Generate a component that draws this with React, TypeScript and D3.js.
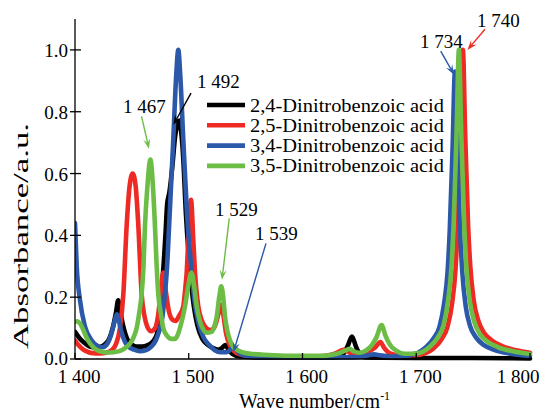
import React from "react";
import * as d3 from "d3";

type Pt = [number, number];

const seriesNames = [
  "2,4-Dinitrobenzoic acid",
  "2,5-Dinitrobenzoic acid",
  "3,4-Dinitrobenzoic acid",
  "3,5-Dinitrobenzoic acid",
];
const seriesColors = ["#000000", "#ee2a24", "#2b58a8", "#6cbd45"];

const xTicks = [1400, 1500, 1600, 1700, 1800];
const xTickLabels = ["1 400", "1 500", "1 600", "1 700", "1 800"];
const yTicks = [0, 0.2, 0.4, 0.6, 0.8, 1.0];
const yTickLabels = ["0.0", "0.2", "0.4", "0.6", "0.8", "1.0"];

const black24: Pt[] = [
  [1400, 0.088], [1404, 0.067], [1409, 0.05], [1413, 0.04], [1418, 0.037], [1423, 0.04],
  [1427, 0.05], [1430, 0.065], [1433.5, 0.105], [1436, 0.15], [1438, 0.19], [1440, 0.15],
  [1442.5, 0.105], [1446.5, 0.06], [1450, 0.047], [1454, 0.04], [1459, 0.04], [1464, 0.045],
  [1468, 0.055], [1471.5, 0.075], [1474, 0.12], [1476, 0.21], [1478, 0.31], [1479.5, 0.4],
  [1481, 0.5], [1483, 0.54], [1485.5, 0.62], [1488, 0.72], [1490, 0.76], [1491.5, 0.77],
  [1493.2, 0.74], [1495, 0.66], [1497.5, 0.47], [1501.5, 0.27], [1504.5, 0.17], [1507.5, 0.11],
  [1512, 0.065], [1517, 0.045], [1522, 0.034], [1526, 0.03], [1529, 0.035], [1532, 0.045],
  [1535, 0.03], [1539, 0.015], [1545, 0.008], [1560, 0.005], [1600, 0.004], [1625, 0.004],
  [1632, 0.008], [1636, 0.018], [1639.5, 0.04], [1643.5, 0.073], [1647, 0.04], [1650.5, 0.015],
  [1655, 0.006], [1670, 0.004], [1700, 0.003], [1750, 0.003], [1800, 0.002],
];

const red25: Pt[] = [
  [1400, 0.06], [1403, 0.045], [1407.3, 0.03], [1412, 0.022], [1416, 0.019], [1422, 0.018],
  [1428, 0.021], [1432, 0.028], [1436, 0.048], [1439.5, 0.1], [1442.5, 0.21], [1445.4, 0.43],
  [1448, 0.56], [1450.7, 0.6], [1453.3, 0.56], [1455.7, 0.43], [1458.6, 0.21], [1461, 0.14],
  [1463.5, 0.105], [1467, 0.09], [1470.5, 0.1], [1473, 0.14], [1475.5, 0.22], [1477.6, 0.28],
  [1479.8, 0.22], [1482.5, 0.155], [1485.5, 0.128], [1488.5, 0.123], [1491.5, 0.14],
  [1495.2, 0.17], [1497, 0.23], [1498.2, 0.28], [1499.6, 0.385], [1502, 0.515], [1504, 0.385],
  [1505.5, 0.28], [1508.4, 0.17], [1511, 0.13], [1514.3, 0.105], [1518.7, 0.094], [1522, 0.1],
  [1525, 0.13], [1527, 0.16], [1528.7, 0.175], [1530.5, 0.14], [1533, 0.08], [1536, 0.045],
  [1540, 0.025], [1546, 0.014], [1560, 0.008], [1590, 0.006], [1615, 0.009], [1624, 0.013],
  [1630, 0.02], [1636, 0.03], [1640, 0.024], [1644.7, 0.015], [1652, 0.017], [1659, 0.026],
  [1664, 0.038], [1668.5, 0.055], [1672, 0.035], [1677, 0.018], [1685, 0.012], [1695, 0.012],
  [1703.5, 0.014], [1708.5, 0.02], [1715.5, 0.035], [1722.5, 0.065], [1727.5, 0.105],
  [1731.5, 0.18], [1734.5, 0.29], [1736.5, 0.44], [1739, 0.73], [1741, 1.0], [1743, 0.73],
  [1745.5, 0.44], [1747.5, 0.3], [1750.5, 0.19], [1754.5, 0.125], [1759.5, 0.085],
  [1766.5, 0.06], [1775.5, 0.042], [1788, 0.028], [1800, 0.02],
];

const blue34: Pt[] = [
  [1400, 0.44], [1401.5, 0.3], [1404.4, 0.19], [1408.8, 0.105], [1414.7, 0.06], [1420, 0.042],
  [1424, 0.038], [1427.5, 0.045], [1430.5, 0.065], [1433, 0.095], [1435, 0.125], [1436.8, 0.145],
  [1438.5, 0.125], [1441, 0.085], [1444, 0.055], [1447, 0.04], [1452, 0.03], [1457, 0.025],
  [1462, 0.028], [1467, 0.04], [1471, 0.06], [1474, 0.09], [1476.2, 0.12], [1478.5, 0.19],
  [1480.6, 0.28], [1483.5, 0.49], [1486.4, 0.71], [1489, 0.92], [1490.8, 1.0], [1492.5, 0.92],
  [1495.2, 0.71], [1498.2, 0.49], [1502.6, 0.28], [1505, 0.19], [1508.4, 0.12], [1513, 0.07],
  [1518, 0.045], [1523, 0.028], [1528, 0.022], [1533, 0.022], [1536.5, 0.03], [1539.5, 0.04],
  [1542, 0.03], [1545, 0.018], [1550, 0.01], [1570, 0.006], [1620, 0.005], [1645, 0.006],
  [1655, 0.01], [1663, 0.015], [1668, 0.012], [1680, 0.008], [1690, 0.01], [1696.5, 0.014],
  [1701.5, 0.02], [1708.5, 0.038], [1715.5, 0.068], [1720.5, 0.105], [1724.5, 0.18],
  [1727.5, 0.28], [1729.5, 0.42], [1732, 0.69], [1734, 0.93], [1736, 0.69], [1738.5, 0.42],
  [1740.5, 0.28], [1743.5, 0.17], [1747.5, 0.105], [1752.5, 0.07], [1759.5, 0.045],
  [1768.5, 0.03], [1781.5, 0.018], [1800, 0.01],
];

const green35: Pt[] = [
  [1400, 0.12], [1402, 0.122], [1404.4, 0.115], [1407.3, 0.094], [1410, 0.07], [1413.2, 0.05],
  [1417, 0.035], [1422, 0.025], [1428, 0.021], [1434, 0.022], [1439.6, 0.026], [1444, 0.035],
  [1448.4, 0.05], [1451.5, 0.07], [1454.2, 0.1], [1456.5, 0.15], [1458.6, 0.21], [1460.2, 0.3],
  [1461.5, 0.43], [1463.5, 0.55], [1466.3, 0.645], [1468.5, 0.56], [1470.3, 0.43], [1471.8, 0.3],
  [1473.2, 0.21], [1475.3, 0.15], [1477.6, 0.1], [1481, 0.075], [1485, 0.065], [1488, 0.065],
  [1490.5, 0.08], [1493, 0.11], [1496.7, 0.17], [1499.5, 0.235], [1502.3, 0.28], [1504.8, 0.235],
  [1507, 0.17], [1510, 0.12], [1512.8, 0.095], [1516, 0.085], [1519.5, 0.087], [1522, 0.1],
  [1524.6, 0.137], [1526.8, 0.2], [1528.6, 0.235], [1530.3, 0.2], [1531.9, 0.137], [1534, 0.09],
  [1536.3, 0.06], [1539, 0.04], [1542, 0.03], [1547, 0.022], [1554, 0.017], [1570, 0.013],
  [1600, 0.01], [1615, 0.01], [1625, 0.013], [1633, 0.02], [1638, 0.028], [1641.5, 0.033],
  [1645, 0.025], [1650.5, 0.02], [1656, 0.028], [1661, 0.045], [1665, 0.07], [1669.5, 0.11],
  [1673, 0.075], [1677, 0.045], [1682, 0.028], [1690, 0.017], [1700, 0.018], [1705, 0.022],
  [1712, 0.04], [1719, 0.07], [1724, 0.11], [1728, 0.19], [1731, 0.3], [1733, 0.45],
  [1735.5, 0.74], [1737.5, 1.0], [1739.5, 0.74], [1742, 0.45], [1744, 0.3], [1747, 0.19],
  [1751, 0.12], [1756, 0.08], [1763, 0.055], [1772, 0.038], [1785, 0.025], [1800, 0.016],
];

const seriesData = [black24, red25, blue34, green35];

// annotations: label, text anchor, arrow start and arrow tip (data units)
const annoLabels = ["1 492", "1 467", "1 529", "1 539", "1 734", "1 740"];
const annoColors = ["#000000", "#6cbd45", "#6cbd45", "#2b58a8", "#2b58a8", "#ee2a24"];
const annoText: Pt[] = [[1507.3, 0.877], [1442.2, 0.796], [1523, 0.463], [1558.2, 0.385], [1703.3, 1.006], [1753.4, 1.074]];
const annoFrom: Pt[] = [[1502, 0.86], [1458.5, 0.785], [1535.6, 0.455], [1567.9, 0.374], [1721.5, 0.996], [1760.4, 1.067]];
const annoTo: Pt[] = [[1486.5, 0.758], [1465, 0.68], [1529.2, 0.256], [1539.3, 0.022], [1733.2, 0.92], [1745, 1.0]];

const FONT = "'Liberation Serif', 'Times New Roman', serif";

export default function App() {
  const W = 554, H = 411;
  const x = d3.scaleLinear().domain([1400, 1800]).range([75, 530]);
  const y = d3.scaleLinear().domain([0, 1.1]).range([359, 19]);
  const line = d3.line<Pt>().x((d) => x(d[0])).y((d) => y(d[1])).curve(d3.curveMonotoneX);

  const arrow = (i: number) => {
    const [x1, y1] = [x(annoFrom[i][0]), y(annoFrom[i][1])];
    const [x2, y2] = [x(annoTo[i][0]), y(annoTo[i][1])];
    const ang = Math.atan2(y2 - y1, x2 - x1);
    const L = 10, Wd = 3.6, notch = 6;
    const bx = x2 - L * Math.cos(ang), by = y2 - L * Math.sin(ang);
    const nx = x2 - notch * Math.cos(ang), ny = y2 - notch * Math.sin(ang);
    const px = -Math.sin(ang), py = Math.cos(ang);
    const head = `M${x2},${y2}L${bx + px * Wd},${by + py * Wd}L${nx},${ny}L${bx - px * Wd},${by - py * Wd}Z`;
    return (
      <g key={"a" + i}>
        <line x1={x1} y1={y1} x2={nx} y2={ny} stroke={annoColors[i]} strokeWidth={1.4} />
        <path d={head} fill={annoColors[i]} />
      </g>
    );
  };

  return (
    <svg width={W} height={H} style={{ display: "block", position: "absolute", left: 0, top: 0 }} fontFamily={FONT}>
      <rect width={W} height={H} fill="#fff" />
      <defs>
        <clipPath id="plot">
          <rect x={75} y={10} width={460} height={352} />
        </clipPath>
      </defs>
      <g clipPath="url(#plot)">
        {seriesData.map((s, i) => (
          <path key={i} d={line(s) || ""} fill="none" stroke={seriesColors[i]} strokeWidth={4.6}
            strokeLinejoin="round" strokeLinecap="round" />
        ))}
      </g>
      {/* axes */}
      <line x1={75} y1={359} x2={530} y2={359} stroke="#000" strokeWidth={1.3} />
      <line x1={75} y1={19} x2={75} y2={359} stroke="#000" strokeWidth={1.3} />
      {xTicks.map((t, i) => (
        <g key={"xt" + i}>
          <line x1={x(t)} x2={x(t)} y1={359} y2={353} stroke="#000" strokeWidth={1.3} />
          <text x={i === xTicks.length - 1 ? x(t) - 12 : x(t) + 4} y={383} fontSize={19} textAnchor="middle">
            {xTickLabels[i]}
          </text>
        </g>
      ))}
      {yTicks.map((t, i) => (
        <g key={"yt" + i}>
          <line x1={70} x2={81} y1={y(t)} y2={y(t)} stroke="#000" strokeWidth={1.3} />
          <text x={68} y={y(t) + (i === 0 ? 5.5 : 7)} fontSize={19} textAnchor="end">{yTickLabels[i]}</text>
        </g>
      ))}
      <text x={239} y={408} fontSize={20}>
        Wave number/cm<tspan dy={-8} fontSize={12}>-1</tspan>
      </text>
      <text transform="translate(28,236) rotate(-90)" fontSize={20} textAnchor="middle"
        textLength={226} lengthAdjust="spacingAndGlyphs">
        Absorbance/a.u.
      </text>
      {/* legend */}
      {seriesNames.map((n, i) => (
        <g key={"lg" + i}>
          <line x1={207} x2={245} y1={105 + i * 20.3} y2={105 + i * 20.3} stroke={seriesColors[i]} strokeWidth={4.6} />
          <text x={250} y={105 + i * 20.3 + 6.5} fontSize={19.5} textLength={194} lengthAdjust="spacingAndGlyphs">{n}</text>
        </g>
      ))}
      {/* annotations */}
      {annoLabels.map((lab, i) => arrow(i))}
      {annoLabels.map((lab, i) => (
        <text key={"at" + i} x={x(annoText[i][0])} y={y(annoText[i][1])} fontSize={19}>{lab}</text>
      ))}
    </svg>
  );
}
